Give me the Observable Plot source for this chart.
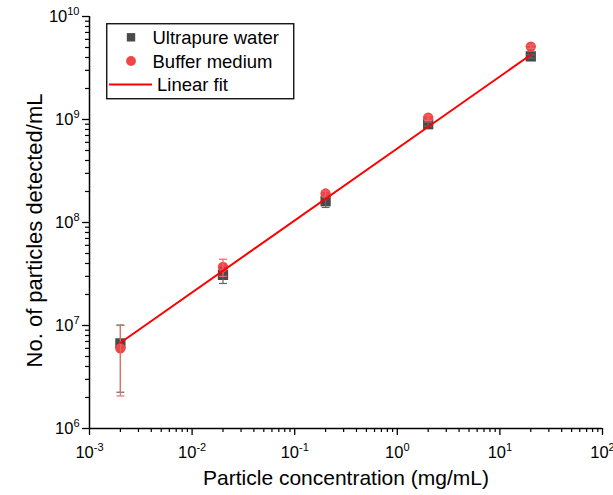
<!DOCTYPE html>
<html>
<head>
<meta charset="utf-8">
<script src="https://cdn.jsdelivr.net/npm/d3@7"></script>
<script src="https://cdn.jsdelivr.net/npm/@observablehq/plot@0.6"></script>
<style>
  body { margin: 0; background: #fff; }
  #chart { position: relative; width: 613px; height: 495px; font-family: "Liberation Sans", Arial, sans-serif; }
  #legend { position: absolute; left: 106px; top: 23px; }
</style>
</head>
<body>
<div id="chart"></div>
<script>
// Particle concentration (mg/mL)
const concentration = [0.002, 0.02, 0.2, 2, 20];

// Ultrapure water: mean counts and error-bar limits (particles/mL)
const ultrapure     = [6.7e6, 3.1e7, 1.61e8, 9.0e8, 4.1e9];
const ultrapureLow  = [2.25e6, 2.56e7, 1.40e8, 8.6e8, 3.95e9];
const ultrapureHigh = [1.01e7, 3.64e7, 1.82e8, 9.4e8, 4.25e9];

// Buffer medium: mean counts and error-bar limits (particles/mL)
const buffer     = [6.0e6, 3.7e7, 1.91e8, 1.04e9, 5.1e9];
const bufferLow  = [2.07e6, 3.0e7, 1.80e8, 0.98e9, 4.9e9];
const bufferHigh = [1.0e7, 4.4e7, 2.02e8, 1.10e9, 5.3e9];

// Linear fit (log-log), evaluated at the ends of the concentration range
const fitX = [0.002, 20];
const fitY = [6.8e6, 4.25e9];

// Axis ticks
const xMajor = [1e-3, 1e-2, 1e-1, 1e0, 1e1, 1e2];
const yMajor = [1e6, 1e7, 1e8, 1e9, 1e10];
const minorOf = (majors) => majors.slice(0, -1).flatMap(m => [2,3,4,5,6,7,8,9].map(k => k * m));
const xMinor = minorOf(xMajor);
const yMinor = minorOf(yMajor);

const xTitle = "Particle concentration (mg/mL)";
const yTitle = "No. of particles detected/mL";

const uwRows = concentration.map((c, i) => ({c, v: ultrapure[i], lo: ultrapureLow[i], hi: ultrapureHigh[i]}));
const bmRows = concentration.map((c, i) => ({c, v: buffer[i], lo: bufferLow[i], hi: bufferHigh[i]}));
const fitRows = fitX.map((c, i) => ({c, v: fitY[i]}));

const gray = "#4a4a4a";
const red = "#f04646";
const fitColor = "#ff0000";

// Horizontal cap symbol for error bars
const cap = {
  draw(context, size) {
    const r = Math.sqrt(size / Math.PI);
    context.moveTo(-r, 0);
    context.lineTo(r, 0);
  }
};

const powLabel = d => "10^" + Math.round(Math.log10(d));
const blank = () => "";

const chart = Plot.plot({
  width: 613,
  height: 495,
  marginLeft: 89,
  marginRight: 11,
  marginTop: 16,
  marginBottom: 67,
  style: {fontFamily: "'Liberation Sans', Arial, sans-serif", color: "#000", background: "#fff"},
  x: {type: "log", domain: [xMajor[0], xMajor[xMajor.length - 1]]},
  y: {type: "log", domain: [yMajor[0], yMajor[yMajor.length - 1]]},
  marks: [
    // minor ticks
    Plot.axisX({ticks: xMinor, tickSize: 4, tickFormat: blank, label: null, strokeWidth: 1.2}),
    Plot.axisY({ticks: yMinor, tickSize: 4, tickFormat: blank, label: null, strokeWidth: 1.2}),
    // major ticks with power-of-ten labels
    Plot.axisX({ticks: xMajor, tickSize: 7, tickPadding: 11, tickFormat: powLabel, label: null, fontSize: 16.5, strokeWidth: 1.3}),
    Plot.axisY({ticks: yMajor, tickSize: 7, tickPadding: 3, tickFormat: powLabel, label: null, fontSize: 16.5, strokeWidth: 1.3}),
    // axis lines
    Plot.ruleY([yMajor[0]], {stroke: "#000", strokeWidth: 1.5}),
    Plot.ruleX([xMajor[0]], {stroke: "#000", strokeWidth: 1.5}),
    // axis titles
    Plot.text([xTitle], {frameAnchor: "bottom", textAnchor: "middle", dy: 56, fontSize: 21, fill: "#000"}),
    Plot.text([yTitle], {frameAnchor: "left", textAnchor: "middle", rotate: -90, dx: -55, dy: 8, fontSize: 22, fill: "#000"}),
    // ultrapure water
    Plot.dot(uwRows, {x: "c", y: "v", symbol: "square", r: 5.8, fill: gray, stroke: "none"}),
    // buffer medium
    Plot.dot(bmRows, {x: "c", y: "v", symbol: "circle", r: 5.2, fill: red, stroke: "none"}),
    // error bars
    Plot.ruleX(uwRows, {x: "c", y1: "lo", y2: "hi", stroke: "#666", strokeWidth: 1.2}),
    Plot.dot(uwRows, {x: "c", y: "lo", symbol: cap, r: 4, stroke: "#666", strokeWidth: 1.2}),
    Plot.dot(uwRows, {x: "c", y: "hi", symbol: cap, r: 4, stroke: "#666", strokeWidth: 1.2}),
    Plot.ruleX(bmRows, {x: "c", y1: "lo", y2: "hi", stroke: "#e86a6a", strokeWidth: 1.2}),
    Plot.dot(bmRows, {x: "c", y: "lo", symbol: cap, r: 4, stroke: "#e86a6a", strokeWidth: 1.2}),
    Plot.dot(bmRows, {x: "c", y: "hi", symbol: cap, r: 4, stroke: "#e86a6a", strokeWidth: 1.2}),
    // linear fit
    Plot.line(fitRows, {x: "c", y: "v", stroke: fitColor, strokeWidth: 2})
  ]
});

// Render "10^n" tick labels with a raised exponent
chart.querySelectorAll("text").forEach(t => {
  const m = /^10\^(-?\d+)$/.exec(t.textContent);
  if (!m) return;
  t.textContent = "";
  t.style.fontSize = "16.5px";
  const ns = "http://www.w3.org/2000/svg";
  const base = document.createElementNS(ns, "tspan");
  base.textContent = "10";
  const sup = document.createElementNS(ns, "tspan");
  sup.textContent = m[1];
  sup.setAttribute("font-size", "11px");
  sup.setAttribute("dy", "-7");
  t.append(base, sup);
});

const host = document.getElementById("chart");
host.append(chart);

// Legend
const legendItems = [
  {label: "Ultrapure water", kind: "square"},
  {label: "Buffer medium", kind: "circle"},
  {label: "Linear fit", kind: "line"}
];
const lw = 187, lh = 75;
const legend = d3.create("svg")
  .attr("id", "legend")
  .attr("width", lw + 2)
  .attr("height", lh + 2)
  .style("font-family", "'Liberation Sans', Arial, sans-serif");
legend.append("rect")
  .attr("x", 0.75).attr("y", 0.75)
  .attr("width", lw).attr("height", lh)
  .attr("fill", "#fff").attr("stroke", "#000").attr("stroke-width", 1.3);
const rowY = [14.3, 38, 61.5];
legendItems.forEach((item, i) => {
  const g = legend.append("g").attr("transform", `translate(0,${rowY[i]})`);
  if (item.kind === "square") {
    g.append("rect").attr("x", 25 - 4.2).attr("y", -4.2).attr("width", 8.4).attr("height", 8.4).attr("fill", gray);
  } else if (item.kind === "circle") {
    g.append("circle").attr("cx", 25).attr("cy", 0).attr("r", 4.9).attr("fill", red);
  } else {
    g.append("line").attr("x1", 3).attr("x2", 46).attr("y1", 0).attr("y2", 0).attr("stroke", fitColor).attr("stroke-width", 2);
  }
  g.append("text")
    .attr("x", item.kind === "line" ? 51 : 46.5)
    .attr("y", 6.7)
    .attr("font-size", 18.5)
    .attr("fill", "#000")
    .text(item.label);
});
host.append(legend.node());
</script>
</body>
</html>
